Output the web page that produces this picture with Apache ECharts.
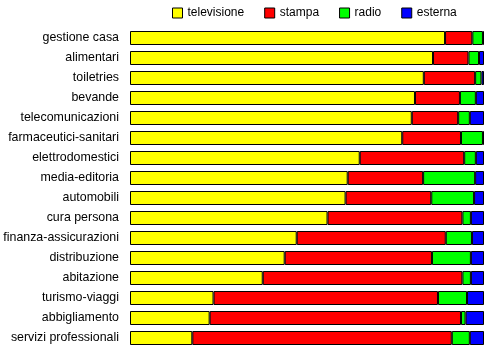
<!DOCTYPE html>
<html>
<head>
<meta charset="utf-8">
<script src="https://cdn.jsdelivr.net/npm/echarts@6/dist/echarts.min.js"></script>
<style>
  html, body { margin: 0; padding: 0; background: #fff; }
  #chart { width: 490px; height: 351px; }
</style>
</head>
<body>
<div id="chart"></div>
<script>
var categories = [
    'gestione casa', 'alimentari', 'toiletries', 'bevande', 'telecomunicazioni',
    'farmaceutici-sanitari', 'elettrodomestici', 'media-editoria', 'automobili',
    'cura persona', 'finanza-assicurazioni', 'distribuzione', 'abitazione',
    'turismo-viaggi', 'abbigliamento', 'servizi professionali'
];
var televisione = [89.0, 85.6, 83.0, 80.5, 79.6, 76.9, 64.9, 61.5, 60.9, 55.8, 47.1, 43.7, 37.5, 23.6, 22.5, 17.6];
var stampa      = [7.7, 10.0, 14.5, 12.7, 13.1, 16.6, 29.5, 21.3, 24.2, 38.1, 42.1, 41.6, 56.4, 63.4, 71.0, 73.3];
var radio       = [3.0, 3.0, 1.8, 4.5, 3.3, 6.2, 3.3, 14.7, 12.1, 2.4, 7.4, 11.0, 2.4, 8.2, 1.3, 5.1];
var esterna     = [0.3, 1.4, 0.7, 2.3, 4.0, 0.3, 2.3, 2.5, 2.8, 3.7, 3.4, 3.7, 3.7, 4.8, 5.2, 4.0];

var seriesNames = ['televisione', 'stampa', 'radio', 'esterna'];
var seriesColors = ['#ffff00', '#ff0000', '#00ff00', '#0000ff'];
var seriesData = [televisione, stampa, radio, esterna];

var myChart = echarts.init(document.getElementById('chart'));

var series = seriesNames.map(function (name, i) {
    return {
        name: name,
        type: 'bar',
        stack: 'tot',
        data: seriesData[i],
        barCategoryGap: '30%',
        itemStyle: {
            color: seriesColors[i],
            borderColor: '#000',
            borderWidth: 1
        }
    };
});

myChart.setOption({
    animation: false,
    textStyle: { fontFamily: 'Liberation Sans, Arial, sans-serif' },
    legend: {
        left: 172,
        top: 7,
        padding: 0,
        icon: 'rect',
        itemWidth: 10,
        itemHeight: 10,
        itemGap: 20,
        selectedMode: false,
        itemStyle: { borderColor: '#000', borderWidth: 1 },
        textStyle: { color: '#000', fontSize: 12 },
        data: seriesNames
    },
    grid: {
        left: 130,
        right: 6,
        top: 28,
        bottom: 3,
        containLabel: false
    },
    xAxis: {
        type: 'value',
        min: 0,
        max: 100,
        show: false
    },
    yAxis: {
        type: 'category',
        inverse: true,
        data: categories,
        axisLine: { show: false },
        axisTick: { show: false },
        axisLabel: { color: '#000', fontSize: 12.4, margin: 11 }
    },
    series: series
});
</script>
</body>
</html>
